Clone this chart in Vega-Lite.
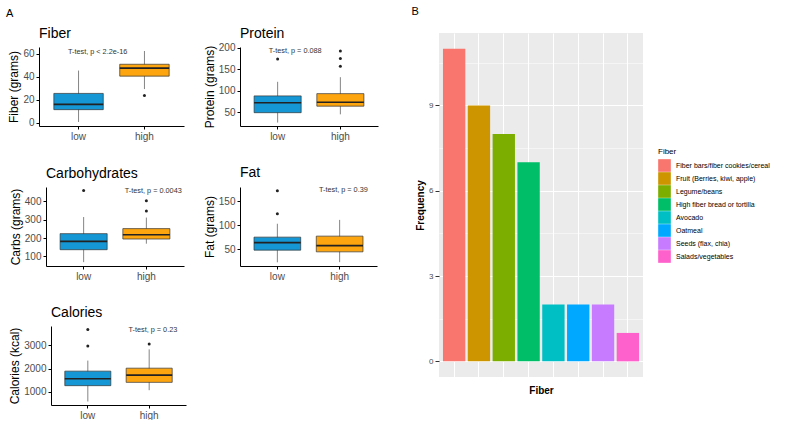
{
  "$schema": "https://vega.github.io/schema/vega-lite/v6.json",
  "padding": {"left": 5, "top": 6, "right": 0, "bottom": 0},
  "config": {
    "font": "Liberation Sans",
    "view": {"stroke": null},
    "axis": {
      "domainColor": "#000000", "domainWidth": 1, "tickColor": "#000000", "tickSize": 3,
      "labelColor": "#4D4D4D", "labelFontSize": 10, "labelPadding": 2, "labelOverlap": false,
      "titleColor": "#000000", "titleFontSize": 12, "titleFontWeight": "normal", "titlePadding": 2,
      "grid": false
    }
  },
  "resolve": {"scale": {"color": "independent"}, "legend": {"color": "independent"}},
  "datasets": {
    "boxes": [
      {"panel": "Fiber", "group": "low", "lo": 0.5, "q1": 11.3, "med": 15.9, "q3": 25.5, "hi": 45.5},
      {"panel": "Fiber", "group": "high", "lo": 29.3, "q1": 40.6, "med": 47.6, "q3": 51, "hi": 62.6},
      {"panel": "Protein", "group": "low", "lo": 25.6, "q1": 48.6, "med": 71.7, "q3": 87.8, "hi": 120.7},
      {"panel": "Protein", "group": "high", "lo": 44.7, "q1": 63.8, "med": 73, "q3": 93.1, "hi": 131.5},
      {"panel": "Carbs", "group": "low", "lo": 69, "q1": 136.5, "med": 181.8, "q3": 223.8, "hi": 314},
      {"panel": "Carbs", "group": "high", "lo": 169, "q1": 194.5, "med": 218, "q3": 251, "hi": 311},
      {"panel": "Fat", "group": "low", "lo": 22.7, "q1": 48, "med": 63.6, "q3": 75.1, "hi": 103},
      {"panel": "Fat", "group": "high", "lo": 23, "q1": 44.5, "med": 57.5, "q3": 77.2, "hi": 111},
      {"panel": "Calories", "group": "low", "lo": 571, "q1": 1257, "med": 1557, "q3": 1886, "hi": 2343},
      {"panel": "Calories", "group": "high", "lo": 1060, "q1": 1400, "med": 1714, "q3": 2014, "hi": 2829}
    ],
    "outliers": [
      {"panel": "Fiber", "group": "high", "value": 23.7},
      {"panel": "Protein", "group": "low", "value": 173.7},
      {"panel": "Protein", "group": "high", "value": 157},
      {"panel": "Protein", "group": "high", "value": 175.3},
      {"panel": "Protein", "group": "high", "value": 192.9},
      {"panel": "Carbs", "group": "low", "value": 458},
      {"panel": "Carbs", "group": "high", "value": 347},
      {"panel": "Carbs", "group": "high", "value": 402},
      {"panel": "Fat", "group": "low", "value": 123.9},
      {"panel": "Fat", "group": "low", "value": 171.8},
      {"panel": "Calories", "group": "low", "value": 2971},
      {"panel": "Calories", "group": "low", "value": 3686},
      {"panel": "Calories", "group": "high", "value": 3057}
    ],
    "tests": [
      {"panel": "Fiber", "label": "T-test, p < 2.2e-16", "tx": 1.29, "ty": 61.7},
      {"panel": "Protein", "label": "T-test, p = 0.088", "tx": 1.28, "ty": 192},
      {"panel": "Carbs", "label": "T-test, p = 0.0043", "tx": 2.11, "ty": 454},
      {"panel": "Fat", "label": "T-test, p = 0.39", "tx": 2.06, "ty": 172.4},
      {"panel": "Calories", "label": "T-test, p = 0.23", "tx": 2.06, "ty": 3648}
    ],
    "fiber": [
      {"source": "Fiber bars/fiber cookies/cereal", "count": 11},
      {"source": "Fruit (Berries, kiwi, apple)", "count": 9},
      {"source": "Legume/beans", "count": 8},
      {"source": "High fiber bread or tortilla", "count": 7},
      {"source": "Avocado", "count": 2},
      {"source": "Oatmeal", "count": 2},
      {"source": "Seeds (flax, chia)", "count": 2},
      {"source": "Salads/vegetables", "count": 1}
    ]
  },
  "hconcat": [
    {
      "title": {"text": "A", "anchor": "start", "frame": "bounds", "fontSize": 11, "fontWeight": "normal", "offset": 8, "dx": -2, "color": "#000"},
      "spacing": 25,
      "vconcat": [
        {
          "spacing": 19,
          "hconcat": [
            {
              "width": 145, "height": 93,
              "title": {"text": "Fiber", "anchor": "start", "frame": "group", "fontSize": 14, "fontWeight": "normal", "offset": 6, "dy": 14, "color": "#000"},
              "resolve": {"scale": {"x": "independent"}, "axis": {"x": "independent"}},
              "layer": [
                {"layer": [
                  {"data": {"name": "boxes"}, "transform": [{"filter": "datum.panel === 'Fiber'"}],
                   "mark": {"type": "rule", "color": "#666666", "strokeWidth": 0.8},
                   "encoding": {
                     "x": {"field": "group", "type": "nominal", "sort": ["low", "high"], "scale": {"domain": ["low", "high"], "paddingInner": 0.25, "paddingOuter": 0.225}, "title": null, "axis": {"labelAngle": 0}},
                     "y": {"field": "lo", "type": "quantitative", "scale": {"domain": [-3, 66.1], "range": [93, 14], "nice": false, "zero": false}, "title": "Fiber (grams)", "axis": {"values": [0, 20, 40, 60], "labelOverlap": false}},
                     "y2": {"field": "hi"}}},
                  {"data": {"name": "boxes"}, "transform": [{"filter": "datum.panel === 'Fiber'"}],
                   "mark": {"type": "bar", "stroke": "#333333", "strokeWidth": 0.7},
                   "encoding": {
                     "x": {"field": "group", "type": "nominal", "sort": ["low", "high"], "scale": {"domain": ["low", "high"], "paddingInner": 0.25, "paddingOuter": 0.225}, "title": null, "axis": {"labelAngle": 0}},
                     "y": {"field": "q1", "type": "quantitative", "scale": {"domain": [-3, 66.1], "range": [93, 14], "nice": false, "zero": false}, "title": "Fiber (grams)", "axis": {"values": [0, 20, 40, 60], "labelOverlap": false}},
                     "y2": {"field": "q3"},
                     "fill": {"field": "group", "type": "nominal", "scale": {"domain": ["low", "high"], "range": ["#1497D4", "#FDA50F"]}, "legend": null}}},
                  {"data": {"name": "boxes"}, "transform": [{"filter": "datum.panel === 'Fiber'"}],
                   "mark": {"type": "tick", "color": "#222222", "thickness": 1.6, "opacity": 1},
                   "encoding": {
                     "x": {"field": "group", "type": "nominal", "sort": ["low", "high"], "scale": {"domain": ["low", "high"], "paddingInner": 0.25, "paddingOuter": 0.225}, "title": null, "axis": {"labelAngle": 0}},
                     "y": {"field": "med", "type": "quantitative", "scale": {"domain": [-3, 66.1], "range": [93, 14], "nice": false, "zero": false}, "title": "Fiber (grams)", "axis": {"values": [0, 20, 40, 60], "labelOverlap": false}}}},
                  {"data": {"name": "outliers"}, "transform": [{"filter": "datum.panel === 'Fiber'"}],
                   "mark": {"type": "circle", "color": "#222222", "size": 9, "opacity": 1},
                   "encoding": {
                     "x": {"field": "group", "type": "nominal", "sort": ["low", "high"], "scale": {"domain": ["low", "high"], "paddingInner": 0.25, "paddingOuter": 0.225}, "title": null, "axis": {"labelAngle": 0}},
                     "y": {"field": "value", "type": "quantitative", "scale": {"domain": [-3, 66.1], "range": [93, 14], "nice": false, "zero": false}, "title": "Fiber (grams)", "axis": {"values": [0, 20, 40, 60], "labelOverlap": false}}}}
                ]},
                {"data": {"name": "tests"}, "transform": [{"filter": "datum.panel === 'Fiber'"}],
                 "mark": {"type": "text", "fontSize": 7.3, "color": "#333333"},
                 "encoding": {
                   "x": {"field": "tx", "type": "quantitative", "scale": {"domain": [0.4, 2.6], "nice": false, "zero": false}, "axis": null},
                   "y": {"field": "ty", "type": "quantitative", "scale": {"domain": [-3, 66.1], "range": [93, 14], "nice": false, "zero": false}, "title": "Fiber (grams)", "axis": {"values": [0, 20, 40, 60], "labelOverlap": false}},
                   "text": {"field": "label"}}}
              ]
            },
            {
              "width": 138, "height": 93,
              "title": {"text": "Protein", "anchor": "start", "frame": "group", "fontSize": 14, "fontWeight": "normal", "offset": 6, "dy": 14, "color": "#000"},
              "resolve": {"scale": {"x": "independent"}, "axis": {"x": "independent"}},
              "layer": [
                {"layer": [
                  {"data": {"name": "boxes"}, "transform": [{"filter": "datum.panel === 'Protein'"}],
                   "mark": {"type": "rule", "color": "#666666", "strokeWidth": 0.8},
                   "encoding": {
                     "x": {"field": "group", "type": "nominal", "sort": ["low", "high"], "scale": {"domain": ["low", "high"], "paddingInner": 0.25, "paddingOuter": 0.225}, "title": null, "axis": {"labelAngle": 0}},
                     "y": {"field": "lo", "type": "quantitative", "scale": {"domain": [17.5, 202], "range": [93, 14], "nice": false, "zero": false}, "title": "Protein (grams)", "axis": {"values": [50, 100, 150, 200], "labelOverlap": false}},
                     "y2": {"field": "hi"}}},
                  {"data": {"name": "boxes"}, "transform": [{"filter": "datum.panel === 'Protein'"}],
                   "mark": {"type": "bar", "stroke": "#333333", "strokeWidth": 0.7},
                   "encoding": {
                     "x": {"field": "group", "type": "nominal", "sort": ["low", "high"], "scale": {"domain": ["low", "high"], "paddingInner": 0.25, "paddingOuter": 0.225}, "title": null, "axis": {"labelAngle": 0}},
                     "y": {"field": "q1", "type": "quantitative", "scale": {"domain": [17.5, 202], "range": [93, 14], "nice": false, "zero": false}, "title": "Protein (grams)", "axis": {"values": [50, 100, 150, 200], "labelOverlap": false}},
                     "y2": {"field": "q3"},
                     "fill": {"field": "group", "type": "nominal", "scale": {"domain": ["low", "high"], "range": ["#1497D4", "#FDA50F"]}, "legend": null}}},
                  {"data": {"name": "boxes"}, "transform": [{"filter": "datum.panel === 'Protein'"}],
                   "mark": {"type": "tick", "color": "#222222", "thickness": 1.6, "opacity": 1},
                   "encoding": {
                     "x": {"field": "group", "type": "nominal", "sort": ["low", "high"], "scale": {"domain": ["low", "high"], "paddingInner": 0.25, "paddingOuter": 0.225}, "title": null, "axis": {"labelAngle": 0}},
                     "y": {"field": "med", "type": "quantitative", "scale": {"domain": [17.5, 202], "range": [93, 14], "nice": false, "zero": false}, "title": "Protein (grams)", "axis": {"values": [50, 100, 150, 200], "labelOverlap": false}}}},
                  {"data": {"name": "outliers"}, "transform": [{"filter": "datum.panel === 'Protein'"}],
                   "mark": {"type": "circle", "color": "#222222", "size": 9, "opacity": 1},
                   "encoding": {
                     "x": {"field": "group", "type": "nominal", "sort": ["low", "high"], "scale": {"domain": ["low", "high"], "paddingInner": 0.25, "paddingOuter": 0.225}, "title": null, "axis": {"labelAngle": 0}},
                     "y": {"field": "value", "type": "quantitative", "scale": {"domain": [17.5, 202], "range": [93, 14], "nice": false, "zero": false}, "title": "Protein (grams)", "axis": {"values": [50, 100, 150, 200], "labelOverlap": false}}}}
                ]},
                {"data": {"name": "tests"}, "transform": [{"filter": "datum.panel === 'Protein'"}],
                 "mark": {"type": "text", "fontSize": 7.3, "color": "#333333"},
                 "encoding": {
                   "x": {"field": "tx", "type": "quantitative", "scale": {"domain": [0.4, 2.6], "nice": false, "zero": false}, "axis": null},
                   "y": {"field": "ty", "type": "quantitative", "scale": {"domain": [17.5, 202], "range": [93, 14], "nice": false, "zero": false}, "title": "Protein (grams)", "axis": {"values": [50, 100, 150, 200], "labelOverlap": false}},
                   "text": {"field": "label"}}}
              ]
            }
          ]
        },
        {
          "spacing": 19,
          "hconcat": [
            {
              "width": 145, "height": 79,
              "title": {"text": "Carbohydrates", "anchor": "start", "frame": "group", "fontSize": 14, "fontWeight": "normal", "offset": 6, "dx": 7, "color": "#000"},
              "resolve": {"scale": {"x": "independent"}, "axis": {"x": "independent"}},
              "layer": [
                {"layer": [
                  {"data": {"name": "boxes"}, "transform": [{"filter": "datum.panel === 'Carbs'"}],
                   "mark": {"type": "rule", "color": "#666666", "strokeWidth": 0.8},
                   "encoding": {
                     "x": {"field": "group", "type": "nominal", "sort": ["low", "high"], "scale": {"domain": ["low", "high"], "range": [7, 145], "paddingInner": 0.25, "paddingOuter": 0.225}, "title": null, "axis": {"labelAngle": 0}},
                     "y": {"field": "lo", "type": "quantitative", "scale": {"domain": [48, 477], "nice": false, "zero": false}, "title": "Carbs (grams)", "axis": {"values": [100, 200, 300, 400], "labelOverlap": false, "offset": -7}},
                     "y2": {"field": "hi"}}},
                  {"data": {"name": "boxes"}, "transform": [{"filter": "datum.panel === 'Carbs'"}],
                   "mark": {"type": "bar", "stroke": "#333333", "strokeWidth": 0.7},
                   "encoding": {
                     "x": {"field": "group", "type": "nominal", "sort": ["low", "high"], "scale": {"domain": ["low", "high"], "range": [7, 145], "paddingInner": 0.25, "paddingOuter": 0.225}, "title": null, "axis": {"labelAngle": 0}},
                     "y": {"field": "q1", "type": "quantitative", "scale": {"domain": [48, 477], "nice": false, "zero": false}, "title": "Carbs (grams)", "axis": {"values": [100, 200, 300, 400], "labelOverlap": false, "offset": -7}},
                     "y2": {"field": "q3"},
                     "fill": {"field": "group", "type": "nominal", "scale": {"domain": ["low", "high"], "range": ["#1497D4", "#FDA50F"]}, "legend": null}}},
                  {"data": {"name": "boxes"}, "transform": [{"filter": "datum.panel === 'Carbs'"}],
                   "mark": {"type": "tick", "color": "#222222", "thickness": 1.6, "opacity": 1},
                   "encoding": {
                     "x": {"field": "group", "type": "nominal", "sort": ["low", "high"], "scale": {"domain": ["low", "high"], "range": [7, 145], "paddingInner": 0.25, "paddingOuter": 0.225}, "title": null, "axis": {"labelAngle": 0}},
                     "y": {"field": "med", "type": "quantitative", "scale": {"domain": [48, 477], "nice": false, "zero": false}, "title": "Carbs (grams)", "axis": {"values": [100, 200, 300, 400], "labelOverlap": false, "offset": -7}}}},
                  {"data": {"name": "outliers"}, "transform": [{"filter": "datum.panel === 'Carbs'"}],
                   "mark": {"type": "circle", "color": "#222222", "size": 9, "opacity": 1},
                   "encoding": {
                     "x": {"field": "group", "type": "nominal", "sort": ["low", "high"], "scale": {"domain": ["low", "high"], "range": [7, 145], "paddingInner": 0.25, "paddingOuter": 0.225}, "title": null, "axis": {"labelAngle": 0}},
                     "y": {"field": "value", "type": "quantitative", "scale": {"domain": [48, 477], "nice": false, "zero": false}, "title": "Carbs (grams)", "axis": {"values": [100, 200, 300, 400], "labelOverlap": false, "offset": -7}}}}
                ]},
                {"data": {"name": "tests"}, "transform": [{"filter": "datum.panel === 'Carbs'"}],
                 "mark": {"type": "text", "fontSize": 7.3, "color": "#333333"},
                 "encoding": {
                   "x": {"field": "tx", "type": "quantitative", "scale": {"domain": [0.4, 2.6], "range": [7, 145], "nice": false, "zero": false}, "axis": null},
                   "y": {"field": "ty", "type": "quantitative", "scale": {"domain": [48, 477], "nice": false, "zero": false}, "title": "Carbs (grams)", "axis": {"values": [100, 200, 300, 400], "labelOverlap": false, "offset": -7}},
                   "text": {"field": "label"}}}
              ]
            },
            {
              "width": 137, "height": 79,
              "title": {"text": "Fat", "anchor": "start", "frame": "group", "fontSize": 14, "fontWeight": "normal", "offset": 6, "color": "#000"},
              "resolve": {"scale": {"x": "independent"}, "axis": {"x": "independent"}},
              "layer": [
                {"layer": [
                  {"data": {"name": "boxes"}, "transform": [{"filter": "datum.panel === 'Fat'"}],
                   "mark": {"type": "rule", "color": "#666666", "strokeWidth": 0.8},
                   "encoding": {
                     "x": {"field": "group", "type": "nominal", "sort": ["low", "high"], "scale": {"domain": ["low", "high"], "paddingInner": 0.25, "paddingOuter": 0.225}, "title": null, "axis": {"labelAngle": 0}},
                     "y": {"field": "lo", "type": "quantitative", "scale": {"domain": [15, 179.5], "nice": false, "zero": false}, "title": "Fat (grams)", "axis": {"values": [50, 100, 150], "labelOverlap": false}},
                     "y2": {"field": "hi"}}},
                  {"data": {"name": "boxes"}, "transform": [{"filter": "datum.panel === 'Fat'"}],
                   "mark": {"type": "bar", "stroke": "#333333", "strokeWidth": 0.7},
                   "encoding": {
                     "x": {"field": "group", "type": "nominal", "sort": ["low", "high"], "scale": {"domain": ["low", "high"], "paddingInner": 0.25, "paddingOuter": 0.225}, "title": null, "axis": {"labelAngle": 0}},
                     "y": {"field": "q1", "type": "quantitative", "scale": {"domain": [15, 179.5], "nice": false, "zero": false}, "title": "Fat (grams)", "axis": {"values": [50, 100, 150], "labelOverlap": false}},
                     "y2": {"field": "q3"},
                     "fill": {"field": "group", "type": "nominal", "scale": {"domain": ["low", "high"], "range": ["#1497D4", "#FDA50F"]}, "legend": null}}},
                  {"data": {"name": "boxes"}, "transform": [{"filter": "datum.panel === 'Fat'"}],
                   "mark": {"type": "tick", "color": "#222222", "thickness": 1.6, "opacity": 1},
                   "encoding": {
                     "x": {"field": "group", "type": "nominal", "sort": ["low", "high"], "scale": {"domain": ["low", "high"], "paddingInner": 0.25, "paddingOuter": 0.225}, "title": null, "axis": {"labelAngle": 0}},
                     "y": {"field": "med", "type": "quantitative", "scale": {"domain": [15, 179.5], "nice": false, "zero": false}, "title": "Fat (grams)", "axis": {"values": [50, 100, 150], "labelOverlap": false}}}},
                  {"data": {"name": "outliers"}, "transform": [{"filter": "datum.panel === 'Fat'"}],
                   "mark": {"type": "circle", "color": "#222222", "size": 9, "opacity": 1},
                   "encoding": {
                     "x": {"field": "group", "type": "nominal", "sort": ["low", "high"], "scale": {"domain": ["low", "high"], "paddingInner": 0.25, "paddingOuter": 0.225}, "title": null, "axis": {"labelAngle": 0}},
                     "y": {"field": "value", "type": "quantitative", "scale": {"domain": [15, 179.5], "nice": false, "zero": false}, "title": "Fat (grams)", "axis": {"values": [50, 100, 150], "labelOverlap": false}}}}
                ]},
                {"data": {"name": "tests"}, "transform": [{"filter": "datum.panel === 'Fat'"}],
                 "mark": {"type": "text", "fontSize": 7.3, "color": "#333333"},
                 "encoding": {
                   "x": {"field": "tx", "type": "quantitative", "scale": {"domain": [0.4, 2.6], "nice": false, "zero": false}, "axis": null},
                   "y": {"field": "ty", "type": "quantitative", "scale": {"domain": [15, 179.5], "nice": false, "zero": false}, "title": "Fat (grams)", "axis": {"values": [50, 100, 150], "labelOverlap": false}},
                   "text": {"field": "label"}}}
              ]
            }
          ]
        },
        {
          "width": 147, "height": 79,
          "title": {"text": "Calories", "anchor": "start", "frame": "group", "fontSize": 14, "fontWeight": "normal", "offset": 6, "dx": 12, "color": "#000"},
          "resolve": {"scale": {"x": "independent"}, "axis": {"x": "independent"}},
          "layer": [
            {"layer": [
              {"data": {"name": "boxes"}, "transform": [{"filter": "datum.panel === 'Calories'"}],
               "mark": {"type": "rule", "color": "#666666", "strokeWidth": 0.8},
               "encoding": {
                 "x": {"field": "group", "type": "nominal", "sort": ["low", "high"], "scale": {"domain": ["low", "high"], "range": [12, 147], "paddingInner": 0.25, "paddingOuter": 0.225}, "title": null, "axis": {"labelAngle": 0}},
                 "y": {"field": "lo", "type": "quantitative", "scale": {"domain": [420, 3840], "nice": false, "zero": false}, "title": "Calories (kcal)", "axis": {"values": [1000, 2000, 3000], "format": "d", "labelOverlap": false, "offset": -12}},
                 "y2": {"field": "hi"}}},
              {"data": {"name": "boxes"}, "transform": [{"filter": "datum.panel === 'Calories'"}],
               "mark": {"type": "bar", "stroke": "#333333", "strokeWidth": 0.7},
               "encoding": {
                 "x": {"field": "group", "type": "nominal", "sort": ["low", "high"], "scale": {"domain": ["low", "high"], "range": [12, 147], "paddingInner": 0.25, "paddingOuter": 0.225}, "title": null, "axis": {"labelAngle": 0}},
                 "y": {"field": "q1", "type": "quantitative", "scale": {"domain": [420, 3840], "nice": false, "zero": false}, "title": "Calories (kcal)", "axis": {"values": [1000, 2000, 3000], "format": "d", "labelOverlap": false, "offset": -12}},
                 "y2": {"field": "q3"},
                 "fill": {"field": "group", "type": "nominal", "scale": {"domain": ["low", "high"], "range": ["#1497D4", "#FDA50F"]}, "legend": null}}},
              {"data": {"name": "boxes"}, "transform": [{"filter": "datum.panel === 'Calories'"}],
               "mark": {"type": "tick", "color": "#222222", "thickness": 1.6, "opacity": 1},
               "encoding": {
                 "x": {"field": "group", "type": "nominal", "sort": ["low", "high"], "scale": {"domain": ["low", "high"], "range": [12, 147], "paddingInner": 0.25, "paddingOuter": 0.225}, "title": null, "axis": {"labelAngle": 0}},
                 "y": {"field": "med", "type": "quantitative", "scale": {"domain": [420, 3840], "nice": false, "zero": false}, "title": "Calories (kcal)", "axis": {"values": [1000, 2000, 3000], "format": "d", "labelOverlap": false, "offset": -12}}}},
              {"data": {"name": "outliers"}, "transform": [{"filter": "datum.panel === 'Calories'"}],
               "mark": {"type": "circle", "color": "#222222", "size": 9, "opacity": 1},
               "encoding": {
                 "x": {"field": "group", "type": "nominal", "sort": ["low", "high"], "scale": {"domain": ["low", "high"], "range": [12, 147], "paddingInner": 0.25, "paddingOuter": 0.225}, "title": null, "axis": {"labelAngle": 0}},
                 "y": {"field": "value", "type": "quantitative", "scale": {"domain": [420, 3840], "nice": false, "zero": false}, "title": "Calories (kcal)", "axis": {"values": [1000, 2000, 3000], "format": "d", "labelOverlap": false, "offset": -12}}}}
            ]},
            {"data": {"name": "tests"}, "transform": [{"filter": "datum.panel === 'Calories'"}],
             "mark": {"type": "text", "fontSize": 7.3, "color": "#333333"},
             "encoding": {
               "x": {"field": "tx", "type": "quantitative", "scale": {"domain": [0.4, 2.6], "range": [12, 147], "nice": false, "zero": false}, "axis": null},
               "y": {"field": "ty", "type": "quantitative", "scale": {"domain": [420, 3840], "nice": false, "zero": false}, "title": "Calories (kcal)", "axis": {"values": [1000, 2000, 3000], "format": "d", "labelOverlap": false, "offset": -12}},
               "text": {"field": "label"}}}
          ]
        }
      ]
    },
    {
      "width": 204, "height": 344,
      "title": {"text": "B", "anchor": "start", "frame": "bounds", "fontSize": 11, "fontWeight": "normal", "offset": 16, "dx": -4, "color": "#000"},
      "view": {"fill": "#EBEBEB", "stroke": null},
      "data": {"name": "fiber"},
      "mark": {"type": "bar"},
      "encoding": {
        "x": {"field": "source", "type": "nominal", "sort": null,
              "scale": {"paddingInner": 0.1, "paddingOuter": 0.16},
              "axis": {"labels": false, "ticks": false, "domain": false, "grid": true, "gridColor": "#FFFFFF", "gridWidth": 1, "bandPosition": 0.5,
                       "title": "Fiber", "titleFontWeight": "bold", "titleFontSize": 10, "titlePadding": 8}},
        "y": {"field": "count", "type": "quantitative",
              "scale": {"domain": [-0.55, 11.55], "nice": false, "zero": false},
              "axis": {"values": [0, 1.5, 3, 4.5, 6, 7.5, 9, 10.5], "domain": false, "grid": true, "gridColor": "#FFFFFF",
                       "gridWidth": {"condition": {"test": "datum.value % 3 === 0", "value": 1.1}, "value": 0.5},
                       "tickOpacity": {"condition": {"test": "datum.value % 3 === 0", "value": 1}, "value": 0},
                       "labelExpr": "datum.value % 3 === 0 ? datum.label : ''",
                       "tickColor": "#333333", "tickSize": 4, "labelFontSize": 8, "labelColor": "#4D4D4D", "labelPadding": 2,
                       "title": "Frequency", "titleFontWeight": "bold", "titleFontSize": 10, "titlePadding": 3}},
        "color": {"field": "source", "type": "nominal", "sort": null,
                  "scale": {"domain": ["Fiber bars/fiber cookies/cereal", "Fruit (Berries, kiwi, apple)", "Legume/beans", "High fiber bread or tortilla", "Avocado", "Oatmeal", "Seeds (flax, chia)", "Salads/vegetables"],
                            "range": ["#F8766D", "#CD9600", "#7CAE00", "#00BE67", "#00BFC4", "#00A9FF", "#C77CFF", "#FF61CC"]},
                  "legend": {"title": "Fiber", "orient": "none", "legendX": 219, "legendY": 115, "symbolType": "square", "symbolSize": 160, "symbolStrokeWidth": 0,
                             "rowPadding": 0, "labelFontSize": 7, "titleFontSize": 8, "titleFontWeight": "normal", "labelOffset": 5, "titlePadding": 3, "labelColor": "#000", "titleColor": "#000"}}
      }
    }
  ],
  "spacing": 33
}
